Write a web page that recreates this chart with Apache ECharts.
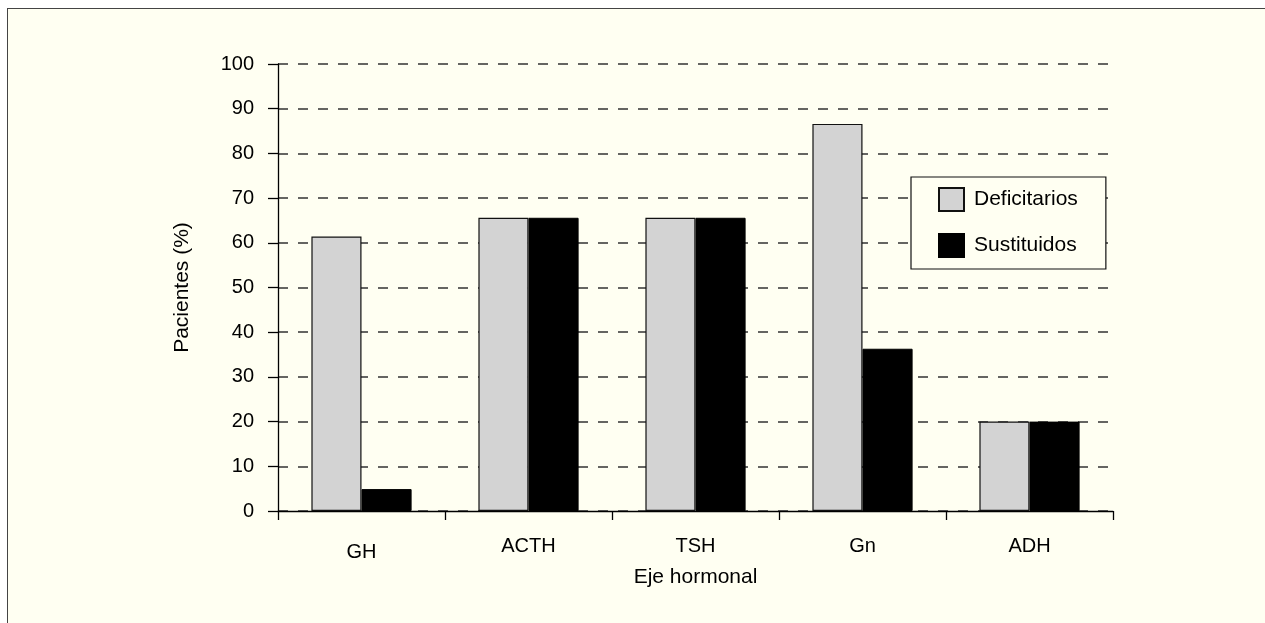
<!DOCTYPE html>
<html>
<head>
<meta charset="utf-8">
<script src="https://cdn.jsdelivr.net/npm/echarts@6/dist/echarts.min.js"></script>
<style>
  html, body { margin: 0; padding: 0; background: #ffffff; }
  #frame {
    position: absolute; left: 7px; top: 8px; width: 1300px; height: 700px;
    background: #fffff2; border: 1px solid #444;
  }
  #chart { position: absolute; left: 0; top: 0; width: 1265px; height: 623px; }
</style>
</head>
<body>
<div id="frame"></div>
<div id="chart"></div>
<script>
// Hormonal axes and percentage of patients per group
const categories = ['GH', 'ACTH', 'TSH', 'Gn', 'ADH'];
const deficitarios = [61.4, 65.6, 65.6, 86.6, 20];
const sustituidos = [4.9, 65.6, 65.6, 36.3, 20];
const yTicks = { min: 0, max: 100, interval: 10 };

const font = 'Liberation Sans, Arial, Helvetica, sans-serif';
const chart = echarts.init(document.getElementById('chart'), null, { renderer: 'canvas' });

chart.setOption({
  backgroundColor: 'transparent',
  animation: false,
  grid: { left: 278, right: 152, top: 64, bottom: 112, containLabel: false },
  legend: {
    orient: 'vertical',
    left: 911, top: 177,
    padding: [10, 28, 11, 27],
    itemWidth: 25, itemHeight: 23, itemGap: 21,
    borderColor: '#111', borderWidth: 1.2,
    backgroundColor: '#fffff2',
    icon: 'rect',
    textStyle: { fontFamily: font, fontSize: 21, color: '#000', padding: [0, 0, 0, 5] },
    data: ['Deficitarios', 'Sustituidos']
  },
  xAxis: {
    type: 'category',
    data: categories,
    name: 'Eje hormonal',
    nameLocation: 'middle',
    nameGap: 52,
    nameTextStyle: { fontFamily: font, fontSize: 21, color: '#000' },
    axisLine: { lineStyle: { color: '#000', width: 1.3 } },
    axisTick: { show: true, length: 9, lineStyle: { color: '#000', width: 1.3 } },
    axisLabel: {
      fontFamily: font, fontSize: 20, color: '#000', margin: 25,
      // the first category label sits a little lower than the rest
      formatter: (v, i) => (i === 0 ? '{low|' + v + '}' : v),
      rich: { low: { fontFamily: font, fontSize: 20, color: '#000', padding: [6, 0, 0, 0] } }
    },
    splitLine: { show: false }
  },
  yAxis: {
    type: 'value',
    min: yTicks.min, max: yTicks.max, interval: yTicks.interval,
    name: 'Pacientes (%)',
    nameLocation: 'middle',
    nameRotate: 90,
    nameGap: 85,
    nameTextStyle: { fontFamily: font, fontSize: 21, color: '#000' },
    axisLine: { show: true, lineStyle: { color: '#000', width: 1.3 } },
    axisTick: { show: true, length: 10, lineStyle: { color: '#000', width: 1.3 } },
    axisLabel: { fontFamily: font, fontSize: 20, color: '#000', margin: 24 },
    splitLine: { show: true, lineStyle: { color: '#333', width: 1.5, type: [10, 10] } }
  },
  series: [
    {
      name: 'Deficitarios',
      type: 'bar',
      data: deficitarios,
      barGap: '0%',
      barCategoryGap: '40%',
      itemStyle: { color: '#d3d3d3', borderColor: '#111', borderWidth: 1.2 }
    },
    {
      name: 'Sustituidos',
      type: 'bar',
      data: sustituidos,
      barGap: '0%',
      barCategoryGap: '40%',
      itemStyle: { color: '#000000', borderColor: '#000', borderWidth: 1 }
    }
  ]
});
</script>
</body>
</html>
